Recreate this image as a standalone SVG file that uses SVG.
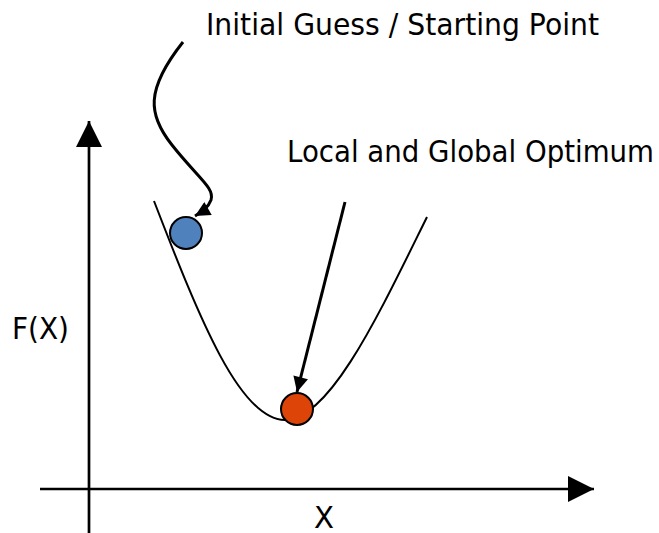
<svg xmlns="http://www.w3.org/2000/svg" width="659" height="533" viewBox="0 0 659 533">
<style>
text{font-family:"DejaVu Sans","Liberation Sans",sans-serif;font-size:30px;fill:#000}
.ax{stroke:#000;stroke-width:2.7;fill:none}
.ar{stroke:#000;stroke-width:3;fill:none}
.cv{stroke:#000;stroke-width:2;fill:none}
.pt{stroke:#000;stroke-width:2}
</style>
<defs>
<marker id="big" viewBox="0 0 10 10" refX="10" refY="5" markerUnits="userSpaceOnUse" markerWidth="26" markerHeight="27" orient="auto"><path d="M0,0L10,5L0,10z" fill="#000"/></marker>
<marker id="sm" viewBox="0 0 10 10" refX="10" refY="5" markerUnits="userSpaceOnUse" markerWidth="16" markerHeight="15" orient="auto"><path d="M0,0L10,5L0,10z" fill="#000"/></marker>
</defs>
<g id="axes">
<line class="ax" x1="89" y1="548" x2="89" y2="121" marker-end="url(#big)"/>
<line class="ax" x1="40" y1="489" x2="594" y2="489" marker-end="url(#big)"/>
</g>
<g id="curve"><path class="cv" d="M154,201 C200,320 240,420 285,420 C330,420 380,312 427,217"/></g>
<g id="connectors">
<path class="ar" d="M183,42 C145,90 148,115 172,145 C198,178 215,188 211,200 C208,208 202,212 195,216" marker-end="url(#sm)"/>
<line class="ar" x1="345" y1="202" x2="297" y2="392" marker-end="url(#sm)"/>
</g>
<g id="initial"><circle class="pt" cx="186" cy="233" r="16" fill="#4F81BD"/></g>
<g id="optimum"><circle class="pt" cx="297" cy="409" r="16" fill="#DD4408"/></g>
<g id="labels">
<text x="206" y="35" textLength="393" lengthAdjust="spacingAndGlyphs">Initial Guess / Starting Point</text>
<text x="287" y="162" textLength="367" lengthAdjust="spacingAndGlyphs">Local and Global Optimum</text>
<text x="12" y="339" textLength="57" lengthAdjust="spacingAndGlyphs">F(X)</text>
<text x="314" y="528" textLength="20" lengthAdjust="spacingAndGlyphs">X</text>
</g>
</svg>
